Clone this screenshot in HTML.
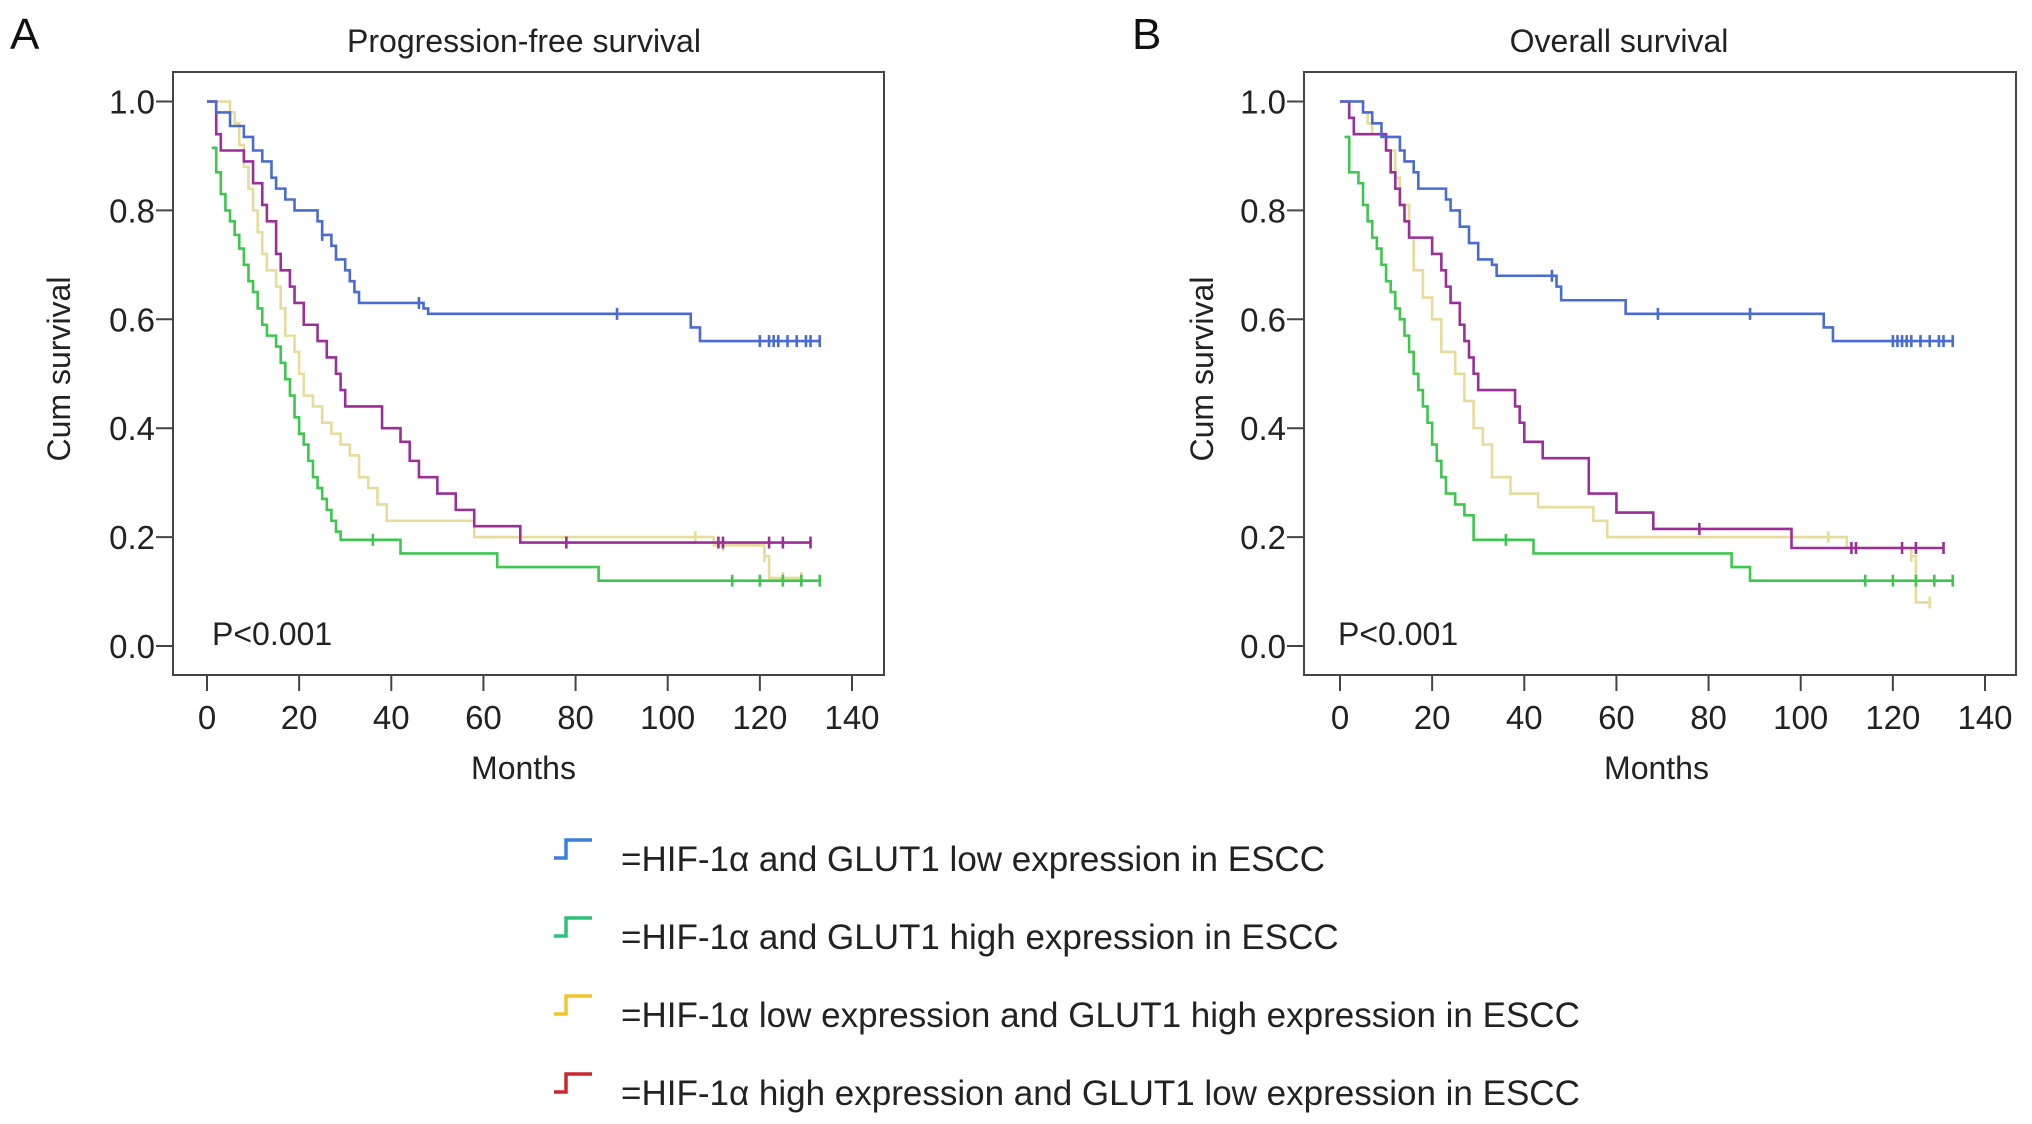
<!DOCTYPE html>
<html><head><meta charset="utf-8"><style>
html,body{margin:0;padding:0;background:#fff;}
svg{display:block;font-family:"Liberation Sans",Arial,sans-serif;}
</style></head><body>
<svg id="fig" width="2032" height="1124" viewBox="0 0 2032 1124"></svg>
<script>
const NS='http://www.w3.org/2000/svg';
const svg=document.getElementById('fig');

const xTicks=[0,20,40,60,80,100,120,140];
const yTicks=[0.0,0.2,0.4,0.6,0.8,1.0];
const yTickLabels=['0.0','0.2','0.4','0.6','0.8','1.0'];
const panelTitles=['Progression-free survival','Overall survival'];
const panelLetters=['A','B'];
const seriesColors=['#4a6cd0','#3ec74f','#e6dc9c','#9a2f97'];

// Panel A data
const aBlueT=[0,2,5,8,10,12,14,15,17,19,24,25,27,28,30,31,32,33,47,48,105,107];
const aBlueS=[1,0.98,0.955,0.935,0.91,0.89,0.86,0.84,0.82,0.80,0.78,0.755,0.735,0.71,0.69,0.67,0.65,0.63,0.62,0.61,0.585,0.56];
const aBlueEnd=133;
const aBlueC=[25,46,89,120,122,123,124,126,128,130,131,133];
const aGreenT=[1,2,3,4,5,6,7,8,9,10,11,12,13,15,16,17,18,19,20,21,22,23,24,25,26,27,28,29,42,63,85];
const aGreenS=[0.915,0.87,0.83,0.80,0.78,0.755,0.73,0.70,0.67,0.65,0.62,0.59,0.57,0.55,0.52,0.49,0.46,0.42,0.39,0.37,0.34,0.31,0.29,0.27,0.25,0.23,0.21,0.195,0.17,0.145,0.12];
const aGreenEnd=133;
const aGreenC=[36,114,120,125,129,133];
const aYellowT=[0,5,6,7,8,9,10,11,12,13,15,16,17,19,20,21,23,25,27,29,31,33,35,37,39,58,110,121,122];
const aYellowS=[1,0.98,0.96,0.92,0.88,0.84,0.80,0.76,0.72,0.69,0.66,0.62,0.57,0.54,0.50,0.46,0.44,0.41,0.39,0.37,0.35,0.31,0.29,0.26,0.23,0.20,0.185,0.165,0.125];
const aYellowEnd=129;
const aYellowC=[106,112,121,125,129];
const aPurpleT=[0,2,3,8,10,12,13,15,16,18,19,21,24,26,28,29,30,38,42,44,46,50,54,58,68];
const aPurpleS=[1,0.94,0.91,0.89,0.85,0.81,0.78,0.72,0.69,0.66,0.63,0.59,0.56,0.53,0.50,0.47,0.44,0.40,0.375,0.34,0.31,0.28,0.25,0.22,0.19];
const aPurpleEnd=131;
const aPurpleC=[78,111,112,122,125,131];

// Panel B data
const bBlueT=[0,5,7,9,13,14,16,17,23,24,26,28,30,33,34,47,48,62,105,107];
const bBlueS=[1,0.98,0.96,0.935,0.91,0.89,0.87,0.84,0.82,0.80,0.77,0.74,0.71,0.70,0.68,0.66,0.635,0.61,0.585,0.56];
const bBlueEnd=133;
const bBlueC=[46,69,89,120,121,122,123,124,126,128,130,131,133];
const bGreenT=[1,2,4,5,6,7,8,9,10,11,12,13,14,15,16,17,18,19,20,21,22,23,25,27,29,42,85,89];
const bGreenS=[0.935,0.87,0.85,0.81,0.78,0.75,0.73,0.70,0.67,0.65,0.62,0.60,0.57,0.54,0.50,0.47,0.44,0.41,0.37,0.34,0.31,0.28,0.26,0.24,0.195,0.17,0.145,0.12];
const bGreenEnd=133;
const bGreenC=[36,114,120,125,129,133];
const bYellowT=[0,5,6,7,10,12,13,15,16,18,20,22,25,27,29,31,33,37,43,55,58,110,124,125];
const bYellowS=[1,0.98,0.96,0.94,0.91,0.86,0.81,0.75,0.69,0.64,0.60,0.54,0.50,0.45,0.40,0.37,0.31,0.28,0.255,0.23,0.20,0.18,0.165,0.08];
const bYellowEnd=128;
const bYellowC=[106,124,128];
const bPurpleT=[0,2,3,10,11,12,13,14,15,20,22,23,24,26,27,28,29,30,38,39,40,44,54,60,68,98];
const bPurpleS=[1,0.97,0.94,0.91,0.87,0.84,0.81,0.78,0.75,0.72,0.69,0.66,0.63,0.59,0.56,0.53,0.50,0.47,0.44,0.41,0.375,0.345,0.28,0.245,0.215,0.18];
const bPurpleEnd=131;
const bPurpleC=[78,111,112,122,125,131];

const legendLabels=['=HIF-1\u03b1 and GLUT1 low expression in ESCC','=HIF-1\u03b1 and GLUT1 high expression in ESCC','=HIF-1\u03b1 low expression and GLUT1 high expression in ESCC','=HIF-1\u03b1 high expression and GLUT1 low expression in ESCC'];
const legendColors=['#3a7fd8','#2fc07a','#f2c52a','#c8282e'];

function mk(tag,attrs,parent){const e=document.createElementNS(NS,tag);for(const k in attrs)e.setAttribute(k,attrs[k]);(parent||svg).appendChild(e);return e;}

const panels=[
 {frameL:173,frameR:884,x0:207,cx:524,letterX:10,yLabX:59,pX:212,series:[[aBlueT,aBlueS,aBlueEnd,aBlueC],[aGreenT,aGreenS,aGreenEnd,aGreenC],[aYellowT,aYellowS,aYellowEnd,aYellowC],[aPurpleT,aPurpleS,aPurpleEnd,aPurpleC]]},
 {frameL:1304,frameR:2016,x0:1340,cx:1619,letterX:1132,yLabX:1202,pX:1338,series:[[bBlueT,bBlueS,bBlueEnd,bBlueC],[bGreenT,bGreenS,bGreenEnd,bGreenC],[bYellowT,bYellowS,bYellowEnd,bYellowC],[bPurpleT,bPurpleS,bPurpleEnd,bPurpleC]]}
];
const frameT=72,frameB=675,yTop=101.5,yBot=646,xPer=(852-207)/140;
const names=['low-low','high-high','hif-low-glut-high','hif-high-glut-low'];

panels.forEach((p,pi)=>{
 const g=mk('g',{});
 
 
 const X=v=>p.x0+v*xPer;
 const Y=v=>yBot-(v)*(yBot-yTop);
 const fr=mk('rect',{x:p.frameL,y:frameT,width:p.frameR-p.frameL,height:frameB-frameT,fill:'none',stroke:'#444','stroke-width':2},g);
 
 const lt=mk('text',{x:p.letterX,y:49,'font-size':44,fill:'#111'},g);lt.textContent=panelLetters[pi];
 
 const tt=mk('text',{x:p.cx,y:52,'font-size':32,'text-anchor':'middle',fill:'#222'},g);tt.textContent=panelTitles[pi];
 
 yTicks.forEach((v,i)=>{
  mk('line',{x1:p.frameL-17,x2:p.frameL,y1:Y(v),y2:Y(v),stroke:'#444','stroke-width':2},g);
  const t=mk('text',{x:p.frameL-18,y:Y(v)+12,'font-size':33,'text-anchor':'end',fill:'#222'},g);t.textContent=yTickLabels[i];
  
 });
 xTicks.forEach(v=>{
  mk('line',{x1:X(v),x2:X(v),y1:frameB,y2:frameB+16,stroke:'#444','stroke-width':2},g);
  const t=mk('text',{x:X(v),y:729,'font-size':33,'text-anchor':'middle',fill:'#222'},g);t.textContent=String(v);
  
 });
 const xl=mk('text',{x:X(70)-6,y:779,'font-size':32,'text-anchor':'middle',fill:'#222'},g);xl.textContent='Months';
 
 const yl=mk('text',{x:p.yLabX+11,y:369,'font-size':32,'text-anchor':'middle',fill:'#222',transform:`rotate(-90 ${p.yLabX+11} 369)`},g);yl.textContent='Cum survival';
 
 const pv=mk('text',{x:p.pX,y:645,'font-size':32,fill:'#222'},g);pv.textContent='P<0.001';
 
 [2,1,3,0].forEach(si=>{
  const [T,S,end,C]=p.series[si];
  let d=`M${X(T[0])},${Y(S[0])}`;
  for(let i=1;i<T.length;i++){d+=` H${X(T[i])} V${Y(S[i])}`;}
  d+=` H${X(end)}`;
  const path=mk('path',{d:d,fill:'none',stroke:seriesColors[si],'stroke-width':2.6},g);
  
  
  C.forEach(c=>{
   let s=S[0];for(let i=0;i<T.length;i++){if(T[i]<=c)s=S[i];}
   const m=mk('line',{x1:X(c),x2:X(c),y1:Y(s)-6,y2:Y(s)+6,stroke:seriesColors[si],'stroke-width':2.6},g);
   
   
  });
 });
});

const lg=mk('g',{});


const rowsY=[849,927,1005,1083];
legendLabels.forEach((lab,i)=>{
 const y=rowsY[i];
 const ic=mk('path',{d:`M554,${y+9} H566 V${y-9} H592`,fill:'none',stroke:legendColors[i],'stroke-width':3.5},lg);
 
 const t=mk('text',{x:621,y:y+22,'font-size':35,fill:'#222'},lg);t.textContent=lab;
 
});
</script>
</body></html>
